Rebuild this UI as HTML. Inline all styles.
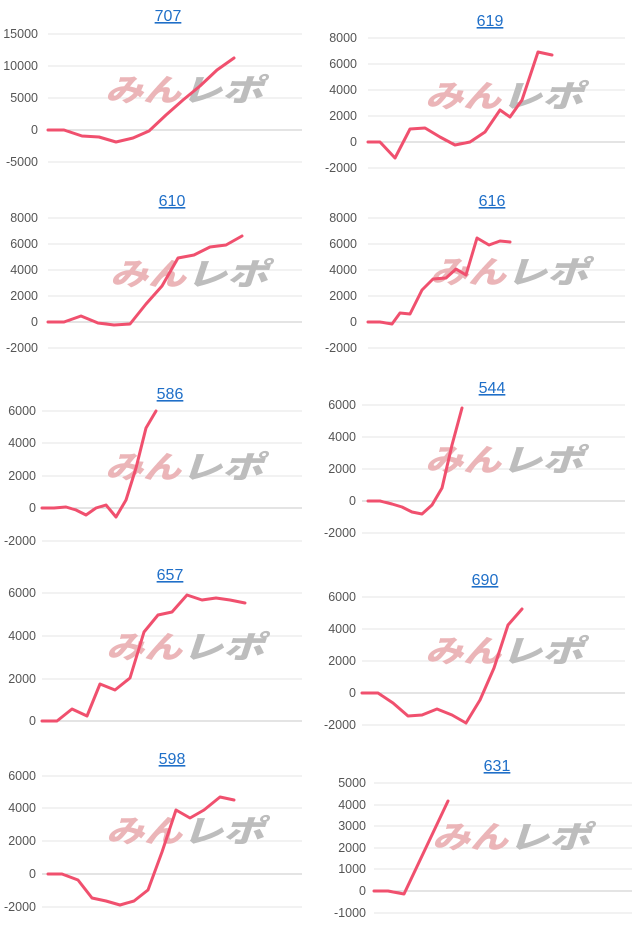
<!DOCTYPE html>
<html><head><meta charset="utf-8">
<style>
html,body{margin:0;padding:0;background:#fff;width:640px;height:931px;overflow:hidden}
svg{display:block}
.t{font-family:"Liberation Sans",Arial,sans-serif;font-size:16px;fill:#1f6fc8;text-decoration:underline}
.l{font-family:"Liberation Sans",Arial,sans-serif;font-size:12.5px;fill:#555}
.w{font-family:"Noto Sans CJK JP",sans-serif;font-weight:900;font-size:31px;font-style:italic}
</style></head><body>
<svg id="s" width="640" height="931" xmlns="http://www.w3.org/2000/svg"></svg>
<script>
var C=[
{t:"707",tx:168,ty:21,x0:48,x1:302,lx:38,g:[[15000,34],[10000,66],[5000,98],[0,130],[-5000,162]],wx:185,wy:101,
p:[[48,130],[64,130],[82,136],[99,137],[116,142],[133,138],[149,131],[166,115],[183,100],[200,86],[217,70],[234,58]]},
{t:"619",tx:490,ty:26,x0:368,x1:625,lx:357,g:[[8000,38],[6000,64],[4000,90],[2000,116],[0,142],[-2000,168]],wx:505,wy:107,
p:[[368,142],[380,142],[395,158],[410,129],[425,128],[440,137],[455,145],[470,142],[485,132],[500,110],[510,117],[522,100],[538,52],[552,55]]},
{t:"610",tx:172,ty:206,x0:48,x1:302,lx:38,g:[[8000,218],[6000,244],[4000,270],[2000,296],[0,322],[-2000,348]],wx:190,wy:285,
p:[[48,322],[64,322],[81,316],[98,323],[114,325],[130,324],[146,304],[162,286],[178,258],[194,255],[210,247],[226,245],[242,236]]},
{t:"616",tx:492,ty:206,x0:368,x1:625,lx:357,g:[[8000,218],[6000,244],[4000,270],[2000,296],[0,322],[-2000,348]],wx:510,wy:283,
p:[[368,322],[380,322],[392,324],[400,313],[410,314],[422,290],[433,279],[446,278],[456,269],[466,275],[477,238],[489,245],[500,241],[510,242]]},
{t:"586",tx:170,ty:399,x0:42,x1:302,lx:36,g:[[6000,411],[4000,443],[2000,476],[0,508],[-2000,541]],wx:185,wy:478,
p:[[42,508],[54,508],[66,507],[76,510],[86,515],[96,508],[106,505],[116,517],[126,500],[136,468],[146,428],[156,411]]},
{t:"544",tx:492,ty:393,x0:362,x1:625,lx:356,g:[[6000,405],[4000,437],[2000,469],[0,501],[-2000,533]],wx:505,wy:471,
p:[[368,501],[380,501],[392,504],[402,507],[412,512],[422,514],[432,505],[442,488],[452,445],[462,408]]},
{t:"657",tx:170,ty:580,x0:42,x1:302,lx:36,g:[[6000,593],[4000,636],[2000,679],[0,721]],wx:186,wy:658,
p:[[42,721],[57,721],[72,709],[87,716],[100,684],[115,690],[130,678],[144,632],[158,615],[172,612],[187,595],[202,600],[216,598],[230,600],[245,603]]},
{t:"690",tx:485,ty:585,x0:362,x1:625,lx:356,g:[[6000,597],[4000,629],[2000,661],[0,693],[-2000,725]],wx:505,wy:662,
p:[[362,693],[378,693],[393,703],[408,716],[422,715],[437,709],[452,715],[466,723],[480,700],[494,668],[508,625],[522,609]]},
{t:"598",tx:172,ty:764,x0:42,x1:302,lx:36,g:[[6000,776],[4000,808],[2000,841],[0,874],[-2000,907]],wx:186,wy:842,
p:[[48,874],[62,874],[78,880],[92,898],[106,901],[120,905],[134,901],[148,890],[162,852],[176,810],[190,818],[204,810],[220,797],[234,800]]},
{t:"631",tx:497,ty:771,x0:374,x1:632,lx:366,g:[[5000,783],[4000,805],[3000,826],[2000,848],[1000,869],[0,891],[-1000,913]],wx:512,wy:848,
p:[[374,891],[388,891],[404,894],[448,801]]}
];
var h="";
C.forEach(function(c){
 h+='<text class="t" x="'+c.tx+'" y="'+c.ty+'" text-anchor="middle">'+c.t+'</text>';
 c.g.forEach(function(g){
  h+='<line x1="'+c.x0+'" x2="'+c.x1+'" y1="'+g[1]+'" y2="'+g[1]+'" stroke="'+(g[0]==0?'#c8c8c8':'#e6e6e6')+'" stroke-width="1"/>';
  h+='<text class="l" x="'+c.lx+'" y="'+(g[1]+4)+'" text-anchor="end">'+g[0]+'</text>';
 });
 h+='<text class="w" x="'+(c.wx-80)+'" y="'+c.wy+'"><tspan fill="#ebb5b8" textLength="76" lengthAdjust="spacingAndGlyphs">みん</tspan><tspan fill="#bdbdbd" textLength="82" lengthAdjust="spacingAndGlyphs">レポ</tspan></text>';
 h+='<polyline fill="none" stroke="#f0506e" stroke-width="3" stroke-linejoin="round" stroke-linecap="round" points="'+c.p.map(function(p){return p.join(",")}).join(" ")+'"/>';
});
document.getElementById("s").innerHTML=h;
</script>
</body></html>
